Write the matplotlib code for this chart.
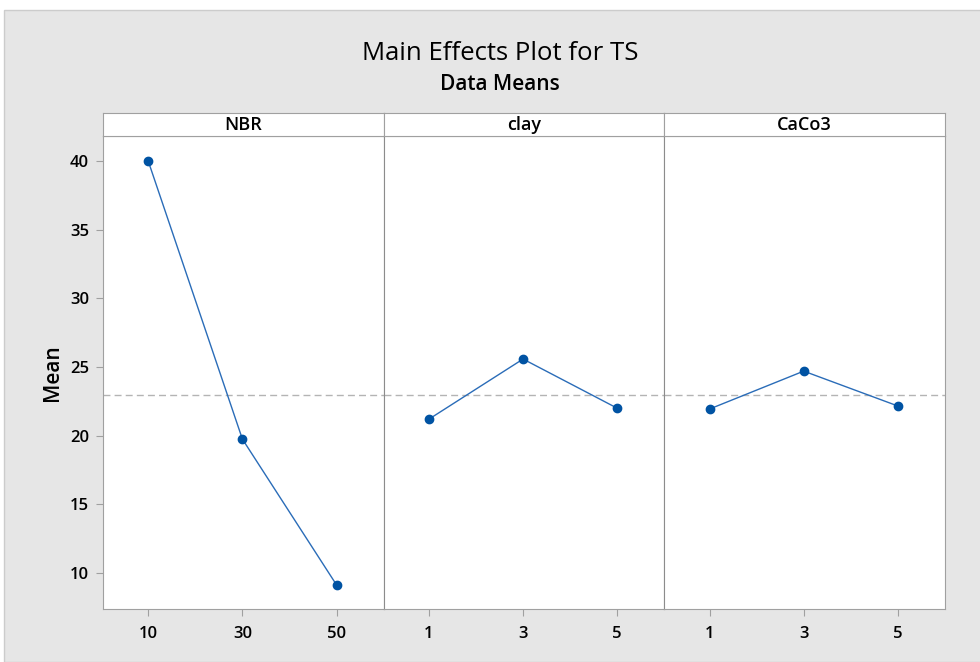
import matplotlib
matplotlib.use('Agg')
import matplotlib.pyplot as plt
from matplotlib.patches import Rectangle

plt.rcParams['font.family'] = ['Open Sans', 'DejaVu Sans']

factors = ['NBR', 'clay', 'CaCo3']
levels = [['10', '30', '50'], ['1', '3', '5'], ['1', '3', '5']]
means = [[40.0, 19.75, 9.13], [21.2, 25.58, 22.0], [21.94, 24.7, 22.16]]
grand_mean = 22.93

fig = plt.figure(figsize=(9.8, 6.62), dpi=100)
fig.patch.set_facecolor('white')
fig.patches.append(Rectangle((4 / 980, 0), 1, 1 - 10 / 662, transform=fig.transFigure,
                             facecolor='#e6e6e6', edgecolor='#cccccc', lw=1, zorder=-10))

left, right = 103 / 980, 945 / 980
bottom, top = 1 - 609 / 662, 1 - 136 / 662
strip_top = 1 - 113 / 662
w = (right - left) / 3

axes = []
for i, name in enumerate(factors):
    ax = fig.add_axes([left + i * w, bottom, w, top - bottom], sharey=axes[0] if axes else None)
    axes.append(ax)
    x = range(len(levels[i]))
    ax.plot(x, means[i], color='#2a6cb8', lw=1, marker='o', ms=6,
            mfc='#0053a3', mec='#0053a3', zorder=3)
    ax.axhline(grand_mean, color='#b4b4b4', lw=1, ls=(0, (5, 3)), zorder=2)
    ax.set_xlim(-0.48, 2.5)
    ax.set_xticks(list(x))
    ax.set_xticklabels(levels[i], fontsize=12, fontweight='semibold')
    ax.tick_params(axis='x', direction='out', length=5, color='#a0a0a0', pad=7)
    for s in ax.spines.values():
        s.set_color('#a0a0a0')
    if i > 0:
        ax.tick_params(axis='y', left=False, labelleft=False)
        ax.spines['left'].set_color('#8c8c8c')

    sx = fig.add_axes([left + i * w, top, w, strip_top - top])
    sx.set_xticks([])
    sx.set_yticks([])
    for s in sx.spines.values():
        s.set_color('#a0a0a0')
    sx.text(0.5, 0.5, name, ha='center', va='center', fontsize=13,
            fontweight='semibold', transform=sx.transAxes)

axes[0].set_ylim(7.38, 41.82)
axes[0].set_yticks([10, 15, 20, 25, 30, 35, 40])
axes[0].tick_params(axis='y', direction='out', length=5, color='#a0a0a0', labelsize=12, pad=5)
for t in axes[0].get_yticklabels():
    t.set_fontweight('semibold')
axes[0].set_ylabel('Mean', fontsize=15, fontweight='semibold', labelpad=5)

fig.text(0.51, 1 - 54 / 662, 'Main Effects Plot for TS', ha='center', va='center', fontsize=18.5)
fig.text(0.51, 1 - 84 / 662, 'Data Means', ha='center', va='center', fontsize=15,
         fontweight='semibold')

fig.savefig('out.png', dpi=100)
